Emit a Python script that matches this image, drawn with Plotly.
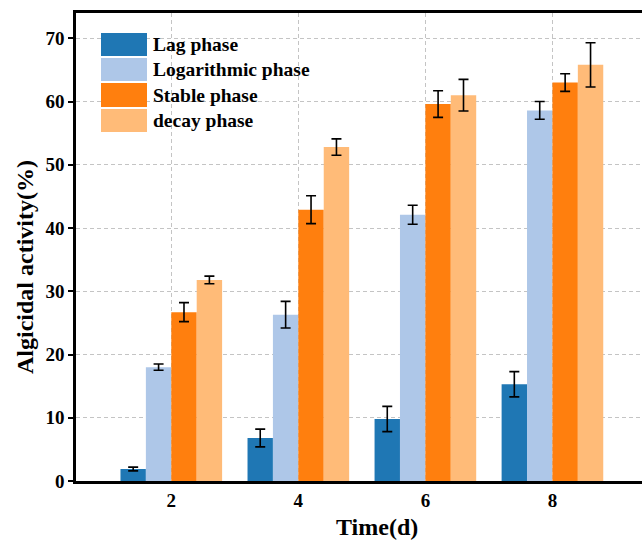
import plotly.graph_objects as go

days = [2, 4, 6, 8]
series_names = ["Lag phase", "Logarithmic phase", "Stable phase", "decay phase"]
lag = [1.9, 6.8, 9.8, 15.3]
lag_err = [0.3, 1.4, 2.0, 2.0]
log_phase = [18.0, 26.3, 42.1, 58.6]
log_err = [0.5, 2.1, 1.5, 1.4]
stable = [26.7, 42.9, 59.6, 63.0]
stable_err = [1.5, 2.2, 2.1, 1.4]
decay = [31.8, 52.8, 61.0, 65.8]
decay_err = [0.6, 1.3, 2.5, 3.5]
colors = ["#1f77b4", "#aec7e8", "#ff7f0e", "#ffbb78"]
y_ticks = [0, 10, 20, 30, 40, 50, 60, 70]

values = [lag, log_phase, stable, decay]
errors = [lag_err, log_err, stable_err, decay_err]

font_family = "Liberation Serif, Times New Roman, serif"

fig = go.Figure()
for name, v, e, c in zip(series_names, values, errors, colors):
    fig.add_trace(go.Bar(
        x=days, y=v, name=name, marker=dict(color=c, line=dict(width=0)),
        error_y=dict(type="data", array=e, color="black", thickness=1.6, width=5),
    ))

W, H = 642, 540
L, T, B = 76, 13, 59
R = 0
pw = W - L - R
ph = H - T - B

def px_x(x):
    return (x - L) / pw

def px_y(y):
    return (H - B - y) / ph

shapes = []
annotations = []
rows = [(33, 56), (58, 81), (83, 107), (109, 132)]
for (y0, y1), name, c in zip(rows, series_names, colors):
    shapes.append(dict(type="rect", xref="paper", yref="paper",
                       x0=px_x(101), x1=px_x(147), y0=px_y(y1), y1=px_y(y0),
                       fillcolor=c, line=dict(width=0), layer="above"))
    annotations.append(dict(xref="paper", yref="paper", x=px_x(151), y=px_y((y0 + y1) / 2),
                            text="<b>%s</b>" % name, showarrow=False, xanchor="left",
                            yanchor="middle", font=dict(size=19.5, color="black", family=font_family)))

annotations.append(dict(xref="paper", yref="paper", x=px_x(377), y=px_y(527),
                        text="<b>Time(d)</b>", showarrow=False, xanchor="center", yanchor="middle",
                        font=dict(size=24, color="black", family=font_family)))
annotations.append(dict(xref="paper", yref="paper", x=px_x(25), y=px_y(267),
                        text="<b>Algicidal activity(%)</b>", showarrow=False, textangle=-90,
                        xanchor="center", yanchor="middle",
                        font=dict(size=24, color="black", family=font_family)))

fig.update_layout(
    width=W, height=H,
    margin=dict(l=L, r=R, t=T, b=B, autoexpand=False),
    paper_bgcolor="white", plot_bgcolor="white",
    barmode="group", bargap=0.2, bargroupgap=0,
    showlegend=False,
    font=dict(family=font_family, color="black"),
    shapes=shapes, annotations=annotations,
    xaxis=dict(
        range=[0.5, 9.41], tickvals=days, ticktext=["<b>%d</b>" % d for d in days],
        tickfont=dict(size=19, family=font_family),
        showgrid=True, gridcolor="#c4c4c4", griddash="4px,3px", gridwidth=1,
        showline=True, linecolor="black", linewidth=2.5, mirror=True,
        ticks="", zeroline=False, automargin=False,
    ),
    yaxis=dict(
        range=[0, 74], tickvals=y_ticks, ticktext=["<b>%d</b>" % t for t in y_ticks],
        tickfont=dict(size=19, family=font_family),
        showgrid=True, gridcolor="#c4c4c4", griddash="4px,3px", gridwidth=1,
        showline=True, linecolor="black", linewidth=2.5, mirror=False,
        ticks="outside", ticklen=5, tickwidth=1.5, tickcolor="black", zeroline=False,
        automargin=False,
    ),
)

fig.write_html("out.html", config={"displayModeBar": False},
               post_script="document.body.style.margin='0';document.body.style.overflow='hidden';")
